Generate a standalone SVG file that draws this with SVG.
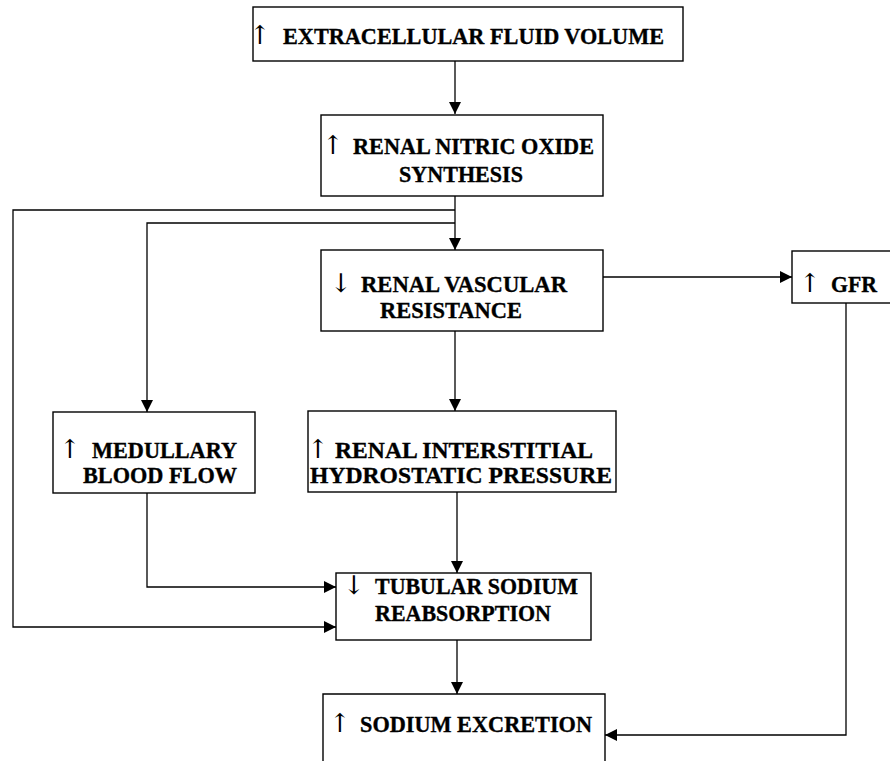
<svg xmlns="http://www.w3.org/2000/svg" width="890" height="761" viewBox="0 0 890 761">
<defs>
<marker id="ah" markerUnits="userSpaceOnUse" markerWidth="12" markerHeight="12" viewBox="0 0 10 10" refX="10" refY="5" orient="auto">
<path d="M0,0 L10,5 L0,10 Z" fill="#000"/>
</marker>
<style>
.box{fill:#fff;stroke:#000;stroke-width:1.4}
.t{font-family:"Liberation Serif","Times New Roman",serif;font-weight:bold;font-size:23.5px;fill:#000;stroke:#000;stroke-width:0.35}
.ar{font-family:"DejaVu Serif",serif;font-weight:normal;font-size:26px;stroke:none}
.c{fill:none;stroke:#000;stroke-width:1.3}
.c path{marker-end:url(#ah)}
</style>
</defs>
<rect width="890" height="761" fill="#fff"/>
<g id="connectors" class="c">
<path d="M455,61 V114"/>
<path d="M455,196 V250"/>
<path d="M455,210 H13 V627 H336"/>
<path d="M455,223 H147 V412"/>
<path d="M603,277 H792"/>
<path d="M455,331 V411"/>
<path d="M147,493 V587 H336"/>
<path d="M457,492 V573"/>
<path d="M457,640 V694"/>
<path d="M846,303 V735 H605"/>
</g>
<g id="ecf">
<rect class="box" x="253" y="7" width="430" height="54"/>
<text class="t" y="44"><tspan class="ar" x="249">↑</tspan><tspan x="283" textLength="381" lengthAdjust="spacingAndGlyphs">EXTRACELLULAR FLUID VOLUME</tspan></text>
</g>
<g id="no">
<rect class="box" x="321" y="115" width="282" height="81"/>
<text class="t" y="154"><tspan class="ar" x="322">↑</tspan><tspan x="353" textLength="241" lengthAdjust="spacingAndGlyphs">RENAL NITRIC OXIDE</tspan></text>
<text class="t" x="399" y="182" textLength="124" lengthAdjust="spacingAndGlyphs">SYNTHESIS</text>
</g>
<g id="rvr">
<rect class="box" x="321" y="250" width="282" height="81"/>
<text class="t" y="292"><tspan class="ar" x="330">↓</tspan><tspan x="361" textLength="206" lengthAdjust="spacingAndGlyphs">RENAL VASCULAR</tspan></text>
<text class="t" x="380" y="318" textLength="142" lengthAdjust="spacingAndGlyphs">RESISTANCE</text>
</g>
<g id="gfr">
<rect class="box" x="792" y="251" width="110" height="52"/>
<text class="t" y="292"><tspan class="ar" x="799">↑</tspan><tspan x="831" textLength="46" lengthAdjust="spacingAndGlyphs">GFR</tspan></text>
</g>
<g id="mbf">
<rect class="box" x="53" y="412" width="202" height="81"/>
<text class="t" y="458"><tspan class="ar" x="59">↑</tspan><tspan x="92" textLength="145" lengthAdjust="spacingAndGlyphs">MEDULLARY</tspan></text>
<text class="t" x="83" y="483" textLength="154" lengthAdjust="spacingAndGlyphs">BLOOD FLOW</text>
</g>
<g id="rihp">
<rect class="box" x="308" y="411" width="308" height="81"/>
<text class="t" y="458"><tspan class="ar" x="307">↑</tspan><tspan x="335" textLength="258" lengthAdjust="spacingAndGlyphs">RENAL INTERSTITIAL</tspan></text>
<text class="t" x="310" y="483" textLength="302" lengthAdjust="spacingAndGlyphs">HYDROSTATIC PRESSURE</text>
</g>
<g id="tsr">
<rect class="box" x="336" y="573" width="255" height="67"/>
<text class="t" y="594"><tspan class="ar" x="343">↓</tspan><tspan x="375" textLength="203" lengthAdjust="spacingAndGlyphs">TUBULAR SODIUM</tspan></text>
<text class="t" x="375" y="621" textLength="176" lengthAdjust="spacingAndGlyphs">REABSORPTION</text>
</g>
<g id="se">
<path class="box" d="M323,770 V694 H605 V770"/>
<text class="t" y="732"><tspan class="ar" x="329">↑</tspan><tspan x="360" textLength="232" lengthAdjust="spacingAndGlyphs">SODIUM EXCRETION</tspan></text>
</g>
</svg>
